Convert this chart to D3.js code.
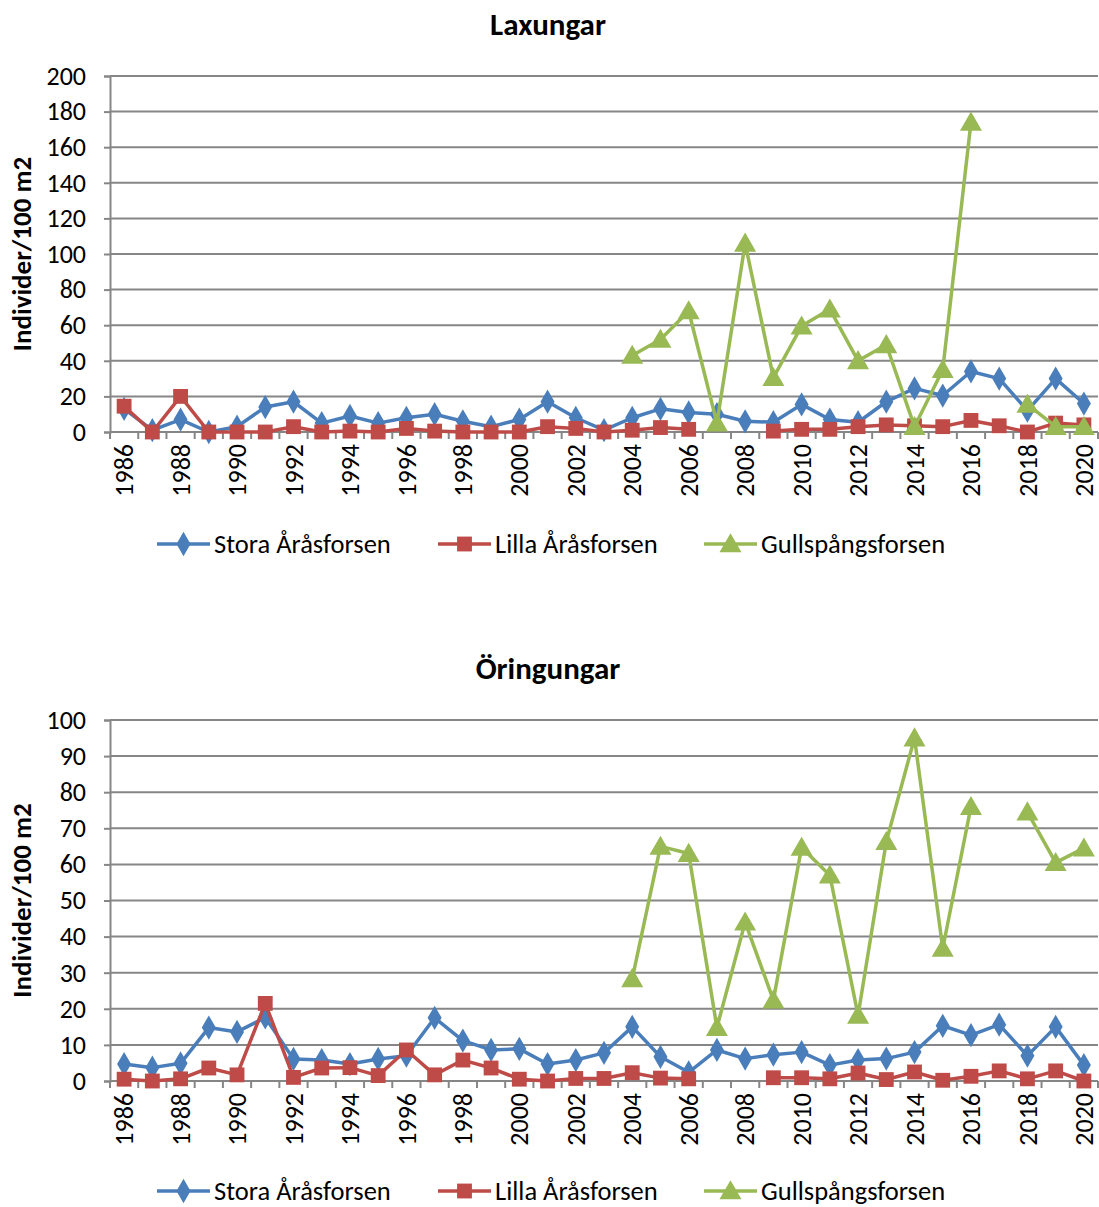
<!DOCTYPE html>
<html>
<head>
<meta charset="utf-8">
<script src="https://cdn.jsdelivr.net/npm/d3@7"></script>
<style>
  body { margin: 0; background: #fff; }
  svg { display: block; font-family: Carlito, Lato, "Liberation Sans", sans-serif; }
</style>
</head>
<body>
<svg id="chart" width="1099" height="1207"></svg>
<script>
// Categories (years)
const years = [1986, 1987, 1988, 1989, 1990, 1991, 1992, 1993, 1994, 1995, 1996, 1997,
  1998, 1999, 2000, 2001, 2002, 2003, 2004, 2005, 2006, 2007, 2008, 2009, 2010,
  2011, 2012, 2013, 2014, 2015, 2016, 2017, 2018, 2019, 2020];
const yearLabels = [1986, 1988, 1990, 1992, 1994, 1996, 1998, 2000, 2002, 2004,
  2006, 2008, 2010, 2012, 2014, 2016, 2018, 2020];

const seriesNames = ['Stora Åråsforsen', 'Lilla Åråsforsen', 'Gullspångsforsen'];

// Laxungar (individer/100 m2)
const laxStora = [13, 1, 7, 0, 3, 14, 17, 5, 9, 5, 8, 10, 6, 3, 7, 17, 8, 1, 8, 13,
  11, 10, 6, 5.5, 15.5, 7, 5.5, 17, 24.5, 20.5, 34, 30, 12, 30, 16];
const laxLilla = [14.5, 0, 20, 0, 0, 0, 3, 0, 0.5, 0, 2, 0.5, 0, 0, 0, 3, 2, 0, 1,
  2.5, 1.5, null, null, 0.5, 1.5, 1.5, 3, 4, 3.5, 3, 6.5, 3.5, 0, 5, 4];
const laxGull = [null, null, null, null, null, null, null, null, null, null, null,
  null, null, null, null, null, null, null, 43, 52, 68, 5, 106, 30.5, 59.5, 69,
  40, 49, 3, 35, 174, null, 15.5, 3, 3];

// Öringungar (individer/100 m2)
const oringStora = [4.7, 3.7, 4.9, 14.8, 13.6, 17.6, 6.1, 5.8, 4.7, 6.1, 7, 17.5,
  11.2, 8.6, 8.9, 4.7, 5.8, 7.8, 15, 6.7, 2.4, 8.6, 6.2, 7.3, 8, 4.4, 5.8, 6.2, 8,
  15.3, 12.7, 15.6, 7, 15, 4.4];
const oringLilla = [0.5, 0, 0.6, 3.6, 1.7, 21.5, 1, 3.6, 3.7, 1.5, 8.6, 1.7, 5.8,
  3.6, 0.5, 0, 0.7, 0.7, 2.3, 0.8, 0.6, null, null, 0.9, 0.9, 0.6, 2.2, 0.4, 2.5,
  0.2, 1.3, 2.8, 0.6, 2.8, 0];
const oringGull = [null, null, null, null, null, null, null, null, null, null, null,
  null, null, null, null, null, null, null, 28.3, 65, 63, 14.8, 44, 22.4, 64.7, 57,
  18.2, 66.3, 95, 36.7, 76, null, 74.5, 60.5, 64.5];

const colors = ['#4A7EBB', '#BE4B48', '#98B954'];
const symbols = [d3.symbolDiamond, d3.symbolSquare, d3.symbolTriangle];
const symbolSizes = [170, 220, 210];
const gridColor = '#868686';
const font = 'Carlito, Lato, "Liberation Sans", sans-serif';

const svg = d3.select('#chart');

function drawChart(cfg) {
    const g = svg.append('g');
    const x = d3.scaleBand().domain(years).range([110, 1098]).padding(0);
    const y = d3.scaleLinear().domain([0, cfg.yMax]).range([cfg.bottom, cfg.top]);
    const cx = (d) => x(d) + x.bandwidth() / 2;

    // title
    g.append('text')
        .attr('x', 548).attr('y', cfg.top - 41)
        .attr('text-anchor', 'middle')
        .attr('font-size', 31).attr('font-weight', 'bold')
        .text(cfg.title);

    // y axis title
    g.append('text')
        .attr('transform', `translate(31,${(cfg.top + cfg.bottom) / 2}) rotate(-90)`)
        .attr('text-anchor', 'middle')
        .attr('font-size', 27).attr('font-weight', 'bold')
        .text('Individer/100 m2');

    // gridlines
    const ticks = d3.range(0, cfg.yMax + 1, cfg.yStep);
    g.append('g').selectAll('line').data(ticks).join('line')
        .attr('x1', 110).attr('x2', 1098)
        .attr('y1', (d) => y(d)).attr('y2', (d) => y(d))
        .attr('stroke', gridColor).attr('stroke-width', 2);

    // y axis
    const yAxis = g.append('g').attr('transform', 'translate(110,0)')
        .call(d3.axisLeft(y).tickValues(ticks).tickSize(6).tickPadding(18));
    yAxis.select('.domain').attr('stroke', gridColor).attr('stroke-width', 2);
    yAxis.selectAll('.tick line').attr('stroke', gridColor).attr('stroke-width', 2);
    yAxis.selectAll('.tick text').attr('font-size', 26).attr('fill', '#000')
        .attr('font-family', font);

    // x axis: boundary ticks
    const bounds = years.map((d) => x(d)).concat([x.range()[1]]);
    g.append('g').selectAll('line').data(bounds).join('line')
        .attr('x1', (d) => d).attr('x2', (d) => d)
        .attr('y1', cfg.bottom).attr('y2', cfg.bottom + 7)
        .attr('stroke', gridColor).attr('stroke-width', 2);

    g.append('g').selectAll('text').data(yearLabels).join('text')
        .attr('transform', (d) => `translate(${cx(d)},${cfg.bottom + 12}) rotate(-90)`)
        .attr('text-anchor', 'end').attr('dy', '0.35em')
        .attr('font-size', 26)
        .text((d) => d);

    // series
    cfg.series.forEach((vals, i) => {
        const pts = years.map((yr, k) => ({ yr, v: vals[k] }));
        const line = d3.line()
            .defined((d) => d.v !== null)
            .x((d) => cx(d.yr)).y((d) => y(d.v));
        g.append('path').datum(pts)
            .attr('d', line).attr('fill', 'none')
            .attr('stroke', colors[i]).attr('stroke-width', 3.5)
            .attr('stroke-linejoin', 'round');
        g.append('g').selectAll('path').data(pts.filter((d) => d.v !== null)).join('path')
            .attr('d', d3.symbol().type(symbols[i]).size(symbolSizes[i]))
            .attr('transform', (d) => `translate(${cx(d.yr)},${y(d.v) + (i === 2 ? 2 : 0)})`)
            .attr('fill', colors[i]);
    });

    // legend
    const legX = [157, 438, 704];
    const lg = g.append('g').attr('transform', `translate(0,${cfg.legendY})`);
    seriesNames.forEach((name, i) => {
        lg.append('line')
            .attr('x1', legX[i]).attr('x2', legX[i] + 53)
            .attr('stroke', colors[i]).attr('stroke-width', 3.5);
        lg.append('path')
            .attr('d', d3.symbol().type(symbols[i]).size(symbolSizes[i]))
            .attr('transform', `translate(${legX[i] + 26.5},${i === 2 ? 2 : 0})`)
            .attr('fill', colors[i]);
        lg.append('text')
            .attr('x', legX[i] + 57).attr('dy', '0.33em')
            .attr('font-size', 26.5)
            .text(name);
    });
}

drawChart({ title: 'Laxungar', top: 76, bottom: 432, yMax: 200, yStep: 20,
    legendY: 544, series: [laxStora, laxLilla, laxGull] });
drawChart({ title: 'Öringungar', top: 720, bottom: 1081, yMax: 100, yStep: 10,
    legendY: 1191, series: [oringStora, oringLilla, oringGull] });
</script>
</body>
</html>
